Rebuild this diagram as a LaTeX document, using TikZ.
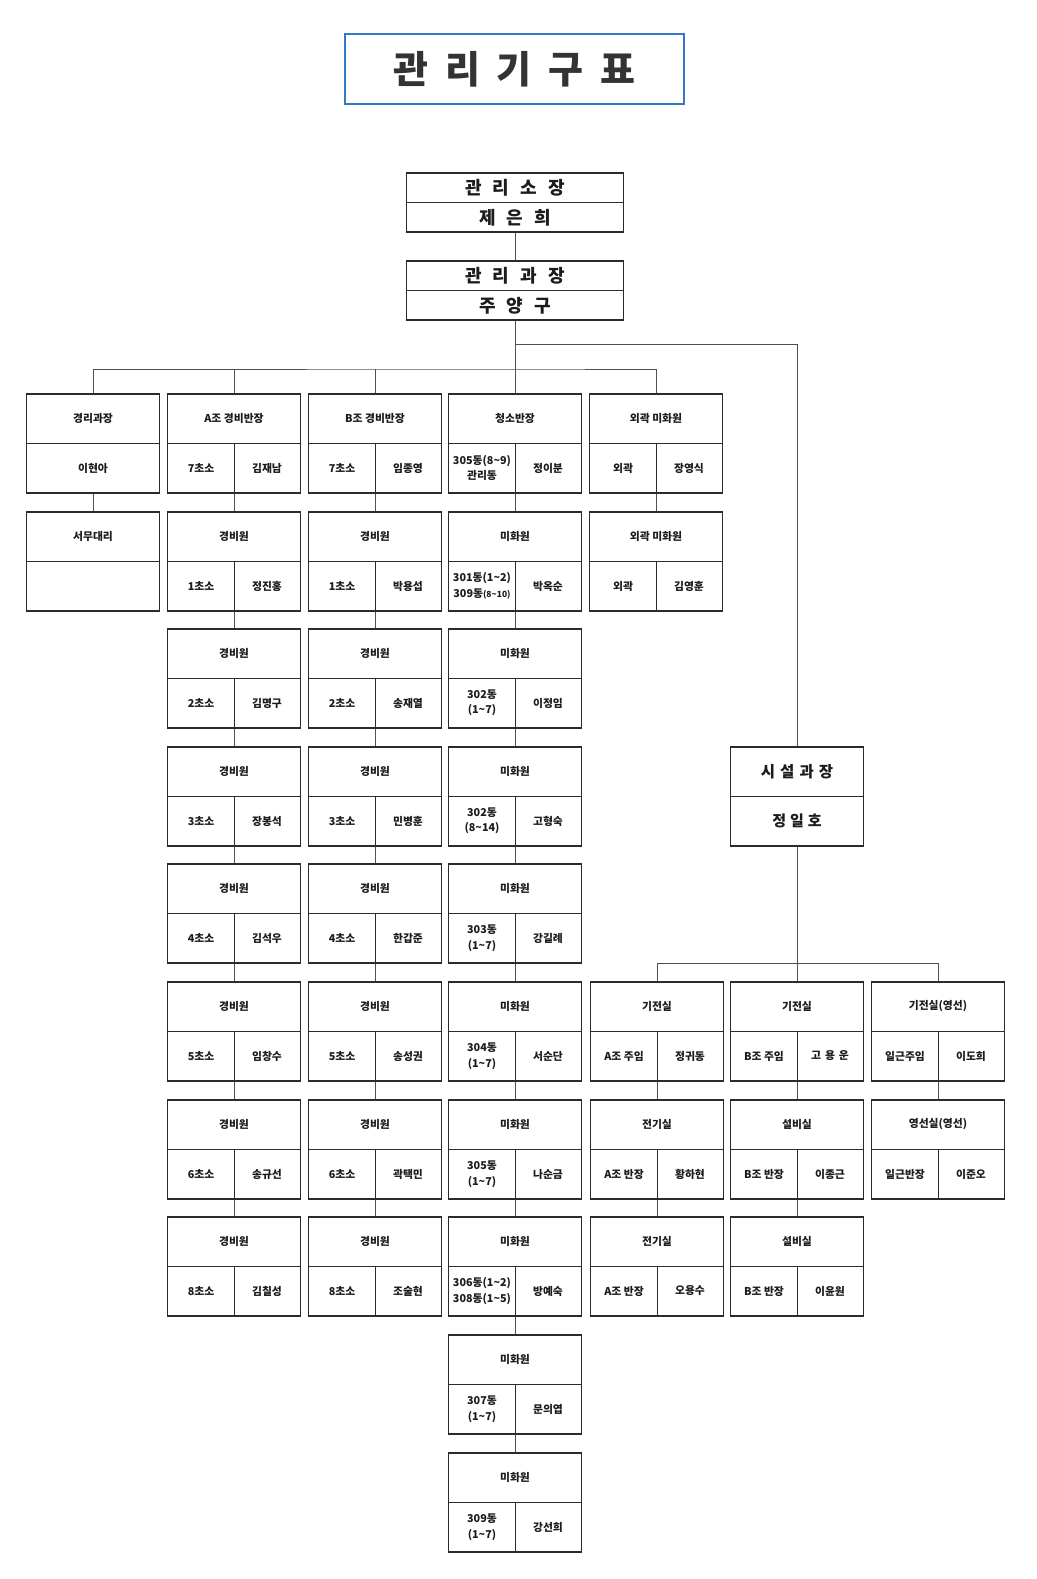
\documentclass[tikz,border=0pt]{standalone}
\usepackage{fontspec}
\setmainfont{Noto Sans CJK KR}
\usetikzlibrary{calc}
\definecolor{ln}{HTML}{2B2B2B}
\definecolor{cn}{HTML}{505050}
\definecolor{tx}{HTML}{1C1C1C}
\definecolor{tblue}{HTML}{3378C8}
\definecolor{tgray}{HTML}{333333}
\newcommand\tld{\textasciitilde}
\newcommand\gp[1]{\hspace{#1pt}}
\tikzset{
 ob/.style={draw=ln, line width=1.5pt, minimum width=133pt, minimum height=99pt, inner sep=0pt},
 splitln/.style={draw=ln, line width=1pt},
 tt/.style={inner sep=0pt, align=center, text=tx, font=\fontsize{10.8}{15.5}\selectfont\bfseries},
 conn/.style={draw=cn, line width=1pt},
 topbox/.style={draw=ln, line width=1.8pt, minimum width=217pt, minimum height=59pt, inner sep=0pt},
 toptext/.style={inner sep=0pt, text=tx, font=\fontsize{18}{20}\selectfont\bfseries},
 midtext/.style={inner sep=0pt, text=tx, font=\fontsize{15.5}{18}\selectfont\bfseries},
}
% name, cx, ytop, title, left, right
\newcommand\orgsplit[6]{%
 \node[ob] (#1) at (#2,#3+49.5) {};
 \draw[splitln] (#1.west) -- (#1.east);
 \draw[splitln] (#1.center) -- (#1.south);
 \node[tt] (#1t) at (#2,#3+24.5) {#4};
 \node[tt] (#1l) at (#2-33,#3+74) {#5};
 \node[tt] (#1r) at (#2+33,#3+74) {#6};
}
% name, cx, ytop, title, bottom
\newcommand\orgplain[5]{%
 \node[ob] (#1) at (#2,#3+49.5) {};
 \draw[splitln] (#1.west) -- (#1.east);
 \node[tt] (#1t) at (#2,#3+24.5) {#4};
 \node[tt] (#1b) at (#2,#3+74) {#5};
}
\begin{document}
\begin{tikzpicture}[x=1pt,y=-1pt]
\useasboundingbox[fill=white] (0,0) rectangle (1036,1579);

% title
\node[draw=tblue, line width=1.8pt, minimum width=339pt, minimum height=70pt, inner sep=0pt,
      text=tgray, font=\fontsize{38}{40}\selectfont\bfseries] (title) at (514.5,69)
      {관\gp{17}리\gp{17}기\gp{17}구\gp{17}표};

% top boxes
\node[topbox] (gs) at (515,202.5) {};
\draw[splitln, line width=1.4pt] (gs.west) -- (gs.east);
\node[toptext] (gst) at (515,188) {관\gp{11}리\gp{11}소\gp{11}장};
\node[toptext] (gsn) at (515,217.5) {제\gp{11}은\gp{11}희};

\node[topbox] (gm) at (515,290.5) {};
\draw[splitln, line width=1.4pt] (gm.west) -- (gm.east);
\node[toptext] (gmt) at (515,276) {관\gp{11}리\gp{11}과\gp{11}장};
\node[toptext] (gmn) at (515,305.5) {주\gp{11}양\gp{11}구};

% column 1
\orgplain{k1}{93}{394}{경리과장}{이현아}
\orgplain{k2}{93}{512}{서무대리}{}

% column 2 (A조)
\orgsplit{a1}{234}{394}{A조 경비반장}{7초소}{김재남}
\orgsplit{a2}{234}{512}{경비원}{1초소}{정진홍}
\orgsplit{a3}{234}{629}{경비원}{2초소}{김명구}
\orgsplit{a4}{234}{747}{경비원}{3초소}{장봉석}
\orgsplit{a5}{234}{864}{경비원}{4초소}{김석우}
\orgsplit{a6}{234}{982}{경비원}{5초소}{임창수}
\orgsplit{a7}{234}{1100}{경비원}{6초소}{송규선}
\orgsplit{a8}{234}{1217}{경비원}{8초소}{김칠성}

% column 3 (B조)
\orgsplit{b1}{375}{394}{B조 경비반장}{7초소}{임종영}
\orgsplit{b2}{375}{512}{경비원}{1초소}{박용섭}
\orgsplit{b3}{375}{629}{경비원}{2초소}{송재열}
\orgsplit{b4}{375}{747}{경비원}{3초소}{민병훈}
\orgsplit{b5}{375}{864}{경비원}{4초소}{한갑준}
\orgsplit{b6}{375}{982}{경비원}{5초소}{송성권}
\orgsplit{b7}{375}{1100}{경비원}{6초소}{곽택민}
\orgsplit{b8}{375}{1217}{경비원}{8초소}{조술현}

% column 4 (청소)
\orgsplit{m1}{515}{394}{청소반장}{305동(8\tld9)\\관리동}{정이분}
\orgsplit{m2}{515}{512}{미화원}{301동(1\tld2)\\309동{\fontsize{8.5}{10}\selectfont(8\tld10)}}{박옥순}
\orgsplit{m3}{515}{629}{미화원}{302동\\(1\tld7)}{이정임}
\orgsplit{m4}{515}{747}{미화원}{302동\\(8\tld14)}{고형숙}
\orgsplit{m5}{515}{864}{미화원}{303동\\(1\tld7)}{강길례}
\orgsplit{m6}{515}{982}{미화원}{304동\\(1\tld7)}{서순단}
\orgsplit{m7}{515}{1100}{미화원}{305동\\(1\tld7)}{나순금}
\orgsplit{m8}{515}{1217}{미화원}{306동(1\tld2)\\308동(1\tld5)}{방예숙}
\orgsplit{m9}{515}{1335}{미화원}{307동\\(1\tld7)}{문의엽}
\orgsplit{m10}{515}{1453}{미화원}{309동\\(1\tld7)}{강선희}

% column 5 (외곽)
\orgsplit{o1}{656}{394}{외곽 미화원}{외곽}{장영식}
\orgsplit{o2}{656}{512}{외곽 미화원}{외곽}{김영훈}

% 시설과장
\node[ob] (ss) at (797,796.5) {};
\draw[splitln] (ss.west) -- (ss.east);
\node[midtext] (sst) at (797,771.5) {시\gp{5}설\gp{5}과\gp{5}장};
\node[midtext, font=\fontsize{15}{18}\selectfont\bfseries] (ssn) at (797,821) {정\gp{4}일\gp{4}호};

% facility columns
\orgsplit{p1}{657}{982}{기전실}{A조 주임}{정귀동}
\orgsplit{p2}{657}{1100}{전기실}{A조 반장}{황하현}
\orgsplit{p3}{657}{1217}{전기실}{A조 반장}{오용수}
\orgsplit{q1}{797}{982}{기전실}{B조 주임}{고\gp{4}용\gp{4}운}
\orgsplit{q2}{797}{1100}{설비실}{B조 반장}{이종근}
\orgsplit{q3}{797}{1217}{설비실}{B조 반장}{이윤원}
\orgsplit{r1}{938}{982}{기전실(영선)}{일근주임}{이도희}
\orgsplit{r2}{938}{1100}{영선실(영선)}{일근반장}{이준오}

% connectors
\coordinate (bus) at (515,369);
\coordinate (br) at (515,344);
\coordinate (sbus) at (797,963);
\draw[conn] (gs.south) -- (gm.north);
\draw[conn] (gm.south) -- (m1.north);
\draw[conn] (k1.north) |- (bus) -| (o1.north);
\draw[conn] (a1.north) -- (a1.north |- bus);
\draw[conn] (b1.north) -- (b1.north |- bus);
\draw[conn] (br) -| (ss.north);
\draw[conn] (ss.south) -- (q1.north);
\draw[conn] (p1.north) |- (sbus) -| (r1.north);

\draw[conn] (k1.south) -- (k2.north);
\draw[conn] (o1.south) -- (o2.north);
\foreach \i/\j in {1/2,2/3,3/4,4/5,5/6,6/7,7/8}{
  \draw[conn] (a\i.south) -- (a\j.north);
  \draw[conn] (b\i.south) -- (b\j.north);
}
\foreach \i/\j in {1/2,2/3,3/4,4/5,5/6,6/7,7/8,8/9,9/10}{
  \draw[conn] (m\i.south) -- (m\j.north);
}
\draw[conn] (p1.south) -- (p2.north);
\draw[conn] (p2.south) -- (p3.north);
\draw[conn] (q1.south) -- (q2.north);
\draw[conn] (q2.south) -- (q3.north);
\draw[conn] (r1.south) -- (r2.north);
\end{tikzpicture}
\end{document}
